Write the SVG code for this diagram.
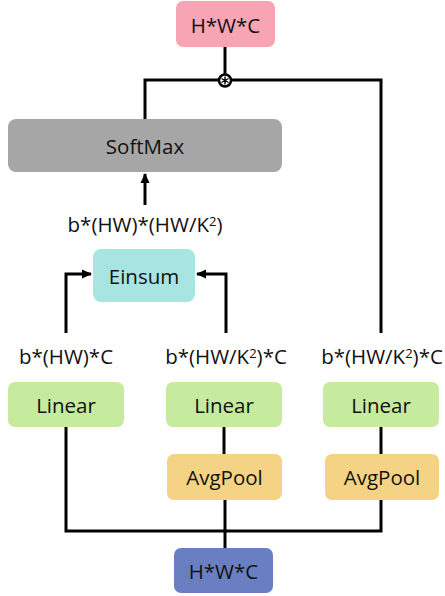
<svg xmlns="http://www.w3.org/2000/svg" width="445" height="596" viewBox="0 0 445 596">
<defs>
<marker id="ah" markerWidth="10" markerHeight="10" refX="9" refY="5" orient="auto" markerUnits="userSpaceOnUse">
<path d="M0,0.5 L10,5 L0,9.5 Z" fill="#000"/>
</marker>
<style>
.t{font-family:"Open Sans","Noto Sans","Liberation Sans",sans-serif;font-size:20.5px;fill:#111;text-anchor:middle;dominant-baseline:central}
.l{font-family:"Open Sans","Noto Sans","Liberation Sans",sans-serif;font-size:20.5px;fill:#111;text-anchor:middle}
.c{stroke:#000;stroke-width:3;fill:none}
.sup{font-size:13px}
</style>
</defs>
<rect width="445" height="596" fill="#fff"/>
<g id="connectors">
<path class="c" d="M225,47 V74"/>
<path class="c" d="M145,119 V80 H381 V333"/>
<path class="c" d="M145,205 V174" marker-end="url(#ah)"/>
<path class="c" d="M66,333 V274 H91" marker-end="url(#ah)"/>
<path class="c" d="M226,333 V274 H197" marker-end="url(#ah)"/>
<path class="c" d="M66,427 V531 H381 V500"/>
<path class="c" d="M224,427 V454"/>
<path class="c" d="M381,427 V454"/>
<path class="c" d="M225,500 V548"/>
<g id="mult">
<circle cx="225" cy="80.5" r="6" fill="#fff" stroke="#000" stroke-width="2.5"/>
<path d="M225,76.5 V84.5 M221.5,78.5 L228.5,82.5 M221.5,82.5 L228.5,78.5" stroke="#000" stroke-width="1.4"/>
</g>
</g>
<g id="out"><rect x="176" y="1" width="99" height="46" rx="7" fill="#f7a4b4"/><text class="t" x="225.5" y="25">H*W*C</text></g>
<g id="softmax"><rect x="8" y="119" width="274" height="53" rx="8" fill="#a6a6a6"/><text class="t" x="145" y="146">SoftMax</text></g>
<g id="lbl_attn"><text class="l" x="145" y="232">b*(HW)*(HW/K<tspan class="sup" dy="-6">2</tspan><tspan dy="6">)</tspan></text></g>
<g id="einsum"><rect x="93" y="249" width="102" height="53" rx="8" fill="#a8e4e1"/><text class="t" x="144" y="275.5">Einsum</text></g>
<g id="lbl_q"><text class="l" x="66" y="364">b*(HW)*C</text></g>
<g id="lbl_k"><text class="l" x="226" y="364">b*(HW/K<tspan class="sup" dy="-6">2</tspan><tspan dy="6">)*C</tspan></text></g>
<g id="lbl_v"><text class="l" x="382" y="364">b*(HW/K<tspan class="sup" dy="-6">2</tspan><tspan dy="6">)*C</tspan></text></g>
<g id="linear1"><rect x="8" y="382" width="116" height="45" rx="7" fill="#c6eb9e"/><text class="t" x="66" y="404.5">Linear</text></g>
<g id="linear2"><rect x="166" y="382" width="116" height="45" rx="7" fill="#c6eb9e"/><text class="t" x="224" y="404.5">Linear</text></g>
<g id="linear3"><rect x="323" y="382" width="116" height="45" rx="7" fill="#c6eb9e"/><text class="t" x="381" y="404.5">Linear</text></g>
<g id="avgpool2"><rect x="167" y="454" width="115" height="46" rx="7" fill="#f5d385"/><text class="t" x="224.5" y="477">AvgPool</text></g>
<g id="avgpool3"><rect x="325" y="454" width="114" height="46" rx="7" fill="#f5d385"/><text class="t" x="382" y="477">AvgPool</text></g>
<g id="in"><rect x="174" y="548" width="99" height="45" rx="7" fill="#6a7fc1"/><text class="t" x="223.5" y="570.5">H*W*C</text></g>
</svg>
